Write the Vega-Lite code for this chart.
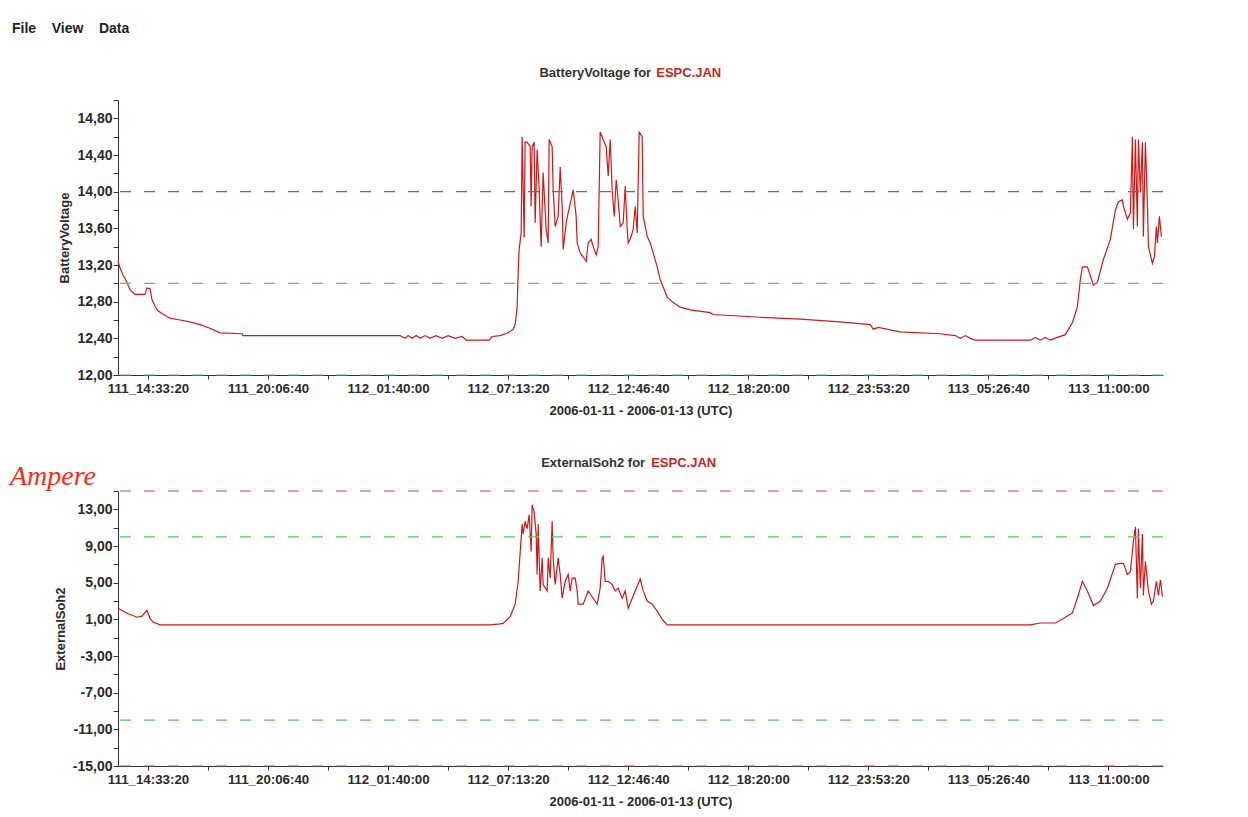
{
  "$schema": "https://vega.github.io/schema/vega-lite/v6.json",
  "background": "white",
  "padding": {"left": 10, "top": 22, "right": 5, "bottom": 5},
  "title": {"text": "File\u00a0\u00a0\u00a0\u00a0View\u00a0\u00a0\u00a0\u00a0Data", "anchor": "start", "dx": 2, "fontSize": 14, "font": "Liberation Sans", "fontWeight": "bold", "color": "#222222", "offset": 31},
  "spacing": 39,
  "config": {
    "view": {"stroke": null},
    "axis": {
      "domainColor": "#333333", "tickColor": "#333333", "labelColor": "#2a2a2a", "titleColor": "#2a2a2a",
      "labelFont": "Liberation Sans", "titleFont": "Liberation Sans", "labelFontWeight": "bold",
      "titleFontWeight": "bold", "titleFontSize": 13, "grid": false, "labelOverlap": false, "labelFlush": false
    }
  },
  "datasets": {
    "bv": [
      {"t":47400,"v":13.24},{"t":47730,"v":13.17},{"t":48230,"v":13.09},{"t":48730,"v":13.03},{"t":49400,"v":12.93},
      {"t":50230,"v":12.88},{"t":51900,"v":12.88},{"t":52230,"v":12.95},{"t":52730,"v":12.94},{"t":53070,"v":12.82},
      {"t":53570,"v":12.75},{"t":54070,"v":12.70},{"t":54730,"v":12.67},{"t":56070,"v":12.62},{"t":57730,"v":12.60},
      {"t":59400,"v":12.58},{"t":61070,"v":12.55},{"t":62730,"v":12.51},{"t":64400,"v":12.46},{"t":68070,"v":12.45},
      {"t":68230,"v":12.43},{"t":93730,"v":12.43},{"t":94400,"v":12.43},{"t":95230,"v":12.40},{"t":95730,"v":12.43},
      {"t":96400,"v":12.40},{"t":97070,"v":12.43},{"t":97730,"v":12.40},{"t":98570,"v":12.43},{"t":99400,"v":12.40},
      {"t":100400,"v":12.43},{"t":101400,"v":12.40},{"t":102400,"v":12.43},{"t":103570,"v":12.40},{"t":104730,"v":12.42},
      {"t":105400,"v":12.38},{"t":107730,"v":12.38},{"t":109230,"v":12.38},{"t":109730,"v":12.42},{"t":111070,"v":12.43},
      {"t":112400,"v":12.46},{"t":113230,"v":12.50},{"t":113570,"v":12.55},{"t":113900,"v":12.74},{"t":114070,"v":13.12},
      {"t":114230,"v":13.37},{"t":114570,"v":13.55},{"t":114730,"v":14.60},{"t":115070,"v":13.50},{"t":115230,"v":14.54},
      {"t":115570,"v":14.54},{"t":116070,"v":14.49},{"t":116230,"v":13.84},{"t":116400,"v":14.49},{"t":116730,"v":14.54},
      {"t":116900,"v":13.66},{"t":117230,"v":14.46},{"t":117570,"v":14.02},{"t":117900,"v":13.40},{"t":118230,"v":14.21},
      {"t":118730,"v":13.59},{"t":119070,"v":13.44},{"t":119230,"v":14.57},{"t":119730,"v":14.49},{"t":119900,"v":14.02},
      {"t":120230,"v":13.62},{"t":120730,"v":13.73},{"t":121070,"v":14.27},{"t":121400,"v":13.84},{"t":121570,"v":13.37},
      {"t":122070,"v":13.66},{"t":122400,"v":13.77},{"t":122900,"v":13.91},{"t":123230,"v":14.02},{"t":123730,"v":13.73},
      {"t":123900,"v":13.44},{"t":124400,"v":13.33},{"t":124900,"v":13.29},{"t":125400,"v":13.24},{"t":125730,"v":13.44},
      {"t":126230,"v":13.48},{"t":126570,"v":13.40},{"t":127070,"v":13.31},{"t":127400,"v":13.40},{"t":127730,"v":14.65},
      {"t":128230,"v":14.57},{"t":128730,"v":14.49},{"t":129070,"v":14.17},{"t":129400,"v":14.57},{"t":129730,"v":14.02},
      {"t":130070,"v":13.73},{"t":130400,"v":14.13},{"t":130730,"v":13.91},{"t":131070,"v":13.62},{"t":131570,"v":13.66},
      {"t":131900,"v":14.06},{"t":132230,"v":13.59},{"t":132400,"v":13.44},{"t":132900,"v":13.51},{"t":133230,"v":13.59},
      {"t":133570,"v":13.84},{"t":133900,"v":13.55},{"t":134230,"v":14.65},{"t":134730,"v":14.60},{"t":134900,"v":13.73},
      {"t":135570,"v":13.51},{"t":136070,"v":13.44},{"t":136570,"v":13.33},{"t":137230,"v":13.18},{"t":137730,"v":13.04},
      {"t":138900,"v":12.85},{"t":139900,"v":12.79},{"t":141070,"v":12.74},{"t":142730,"v":12.71},{"t":146070,"v":12.68},
      {"t":146570,"v":12.66},{"t":154400,"v":12.63},{"t":161070,"v":12.61},{"t":167730,"v":12.58},{"t":172730,"v":12.55},
      {"t":173230,"v":12.50},{"t":174070,"v":12.52},{"t":177730,"v":12.47},{"t":184400,"v":12.45},{"t":186900,"v":12.43},
      {"t":187730,"v":12.40},{"t":188570,"v":12.43},{"t":189400,"v":12.40},{"t":190230,"v":12.38},{"t":194400,"v":12.38},
      {"t":199400,"v":12.38},{"t":200230,"v":12.41},{"t":201070,"v":12.38},{"t":201900,"v":12.41},{"t":202730,"v":12.38},
      {"t":203900,"v":12.41},{"t":205230,"v":12.44},{"t":206400,"v":12.57},{"t":207230,"v":12.74},{"t":207730,"v":13.04},
      {"t":208070,"v":13.18},{"t":208900,"v":13.18},{"t":209900,"v":12.98},{"t":210570,"v":13.01},{"t":211570,"v":13.26},
      {"t":212730,"v":13.48},{"t":213570,"v":13.80},{"t":214070,"v":13.89},{"t":214730,"v":13.91},{"t":214900,"v":13.84},
      {"t":215570,"v":13.70},{"t":216070,"v":13.77},{"t":216400,"v":14.60},{"t":216570,"v":13.59},{"t":216900,"v":14.57},
      {"t":217230,"v":13.62},{"t":217400,"v":14.57},{"t":217730,"v":13.99},{"t":218070,"v":14.54},{"t":218230,"v":13.51},
      {"t":218570,"v":14.54},{"t":218900,"v":13.88},{"t":219070,"v":13.40},{"t":219730,"v":13.22},{"t":220070,"v":13.29},
      {"t":220400,"v":13.62},{"t":220570,"v":13.44},{"t":220900,"v":13.73},{"t":221230,"v":13.51}
    ],
    "es": [
      {"t":47400,"v":2.2},{"t":48900,"v":1.67},{"t":50570,"v":1.23},{"t":51400,"v":1.35},{"t":52230,"v":2.0},
      {"t":52730,"v":1.1},{"t":53230,"v":0.7},{"t":54400,"v":0.4},{"t":109400,"v":0.4},{"t":111070,"v":0.5},
      {"t":111570,"v":0.55},{"t":112730,"v":1.3},{"t":113570,"v":2.65},{"t":114070,"v":5.15},{"t":114730,"v":11.4},
      {"t":114900,"v":10.3},{"t":115230,"v":11.7},{"t":115570,"v":10.9},{"t":115900,"v":12.4},{"t":116230,"v":8.4},
      {"t":116400,"v":13.5},{"t":116730,"v":12.7},{"t":117070,"v":10.3},{"t":117230,"v":5.9},{"t":117400,"v":11.4},
      {"t":117730,"v":4.1},{"t":118070,"v":7.7},{"t":118230,"v":4.8},{"t":118900,"v":4.1},{"t":119070,"v":7.7},
      {"t":119400,"v":5.5},{"t":119730,"v":11.7},{"t":119900,"v":7.7},{"t":120230,"v":4.8},{"t":120730,"v":7.7},
      {"t":121070,"v":5.9},{"t":121400,"v":3.3},{"t":121900,"v":5.15},{"t":122400,"v":5.9},{"t":122730,"v":4.1},
      {"t":123070,"v":5.5},{"t":123570,"v":5.5},{"t":123900,"v":4.1},{"t":124070,"v":2.65},{"t":124900,"v":2.65},
      {"t":125730,"v":4.1},{"t":126570,"v":3.3},{"t":127230,"v":2.65},{"t":127730,"v":4.4},{"t":128070,"v":7.7},
      {"t":128230,"v":7.9},{"t":128570,"v":5.15},{"t":129070,"v":5.15},{"t":129730,"v":4.8},{"t":130230,"v":4.1},
      {"t":130730,"v":4.4},{"t":131400,"v":3.3},{"t":131900,"v":4.1},{"t":132400,"v":2.2},{"t":133070,"v":3.3},
      {"t":133570,"v":4.1},{"t":134400,"v":5.4},{"t":134900,"v":4.1},{"t":135570,"v":3.0},{"t":136400,"v":2.65},
      {"t":137230,"v":1.9},{"t":138070,"v":1.0},{"t":138900,"v":0.4},{"t":199400,"v":0.4},{"t":201070,"v":0.6},
      {"t":203570,"v":0.6},{"t":204900,"v":1.1},{"t":206400,"v":1.7},{"t":207230,"v":3.3},{"t":208070,"v":5.15},
      {"t":208900,"v":4.1},{"t":209900,"v":2.5},{"t":211070,"v":3.0},{"t":212230,"v":4.4},{"t":213570,"v":7.0},
      {"t":214400,"v":7.1},{"t":214900,"v":7.1},{"t":215570,"v":5.9},{"t":216070,"v":6.2},{"t":216570,"v":9.5},
      {"t":216900,"v":11.1},{"t":217230,"v":3.3},{"t":217400,"v":10.9},{"t":217730,"v":4.4},{"t":218070,"v":10.3},
      {"t":218230,"v":3.6},{"t":218570,"v":7.3},{"t":219070,"v":4.1},{"t":219570,"v":2.65},{"t":219900,"v":3.0},
      {"t":220400,"v":5.15},{"t":220730,"v":3.6},{"t":221070,"v":5.3},{"t":221400,"v":3.5}
    ],
    "th1": [{"v":14,"c":"red"},{"v":13,"c":"green"},{"v":12,"c":"green"}],
    "th2": [{"v":15,"c":"red"},{"v":10,"c":"green"},{"v":-10,"c":"green"},{"v":-15,"c":"red"}],
    "one": [{"k":1}]
  },
  "vconcat": [
    {
      "width": 1045,
      "height": 275,
      "layer": [
        {
          "data": {"name": "bv"},
          "mark": {"type": "line", "color": "#d01818", "strokeWidth": 1.2},
          "encoding": {
            "x": {"field": "t", "type": "quantitative",
              "scale": {"domain": [47400, 221500], "nice": false, "zero": false},
              "axis": {"values": [52400,62400,72400,82400,92400,102400,112400,122400,132400,142400,152400,162400,172400,182400,192400,202400,212400],
                "labelExpr": "round((datum.value-52400)/10000)%2==0 ? (111+floor(datum.value/86400)) + '_' + utcFormat(datum.value*1000, '%H:%M:%S') : ''",
                "title": "2006-01-11 - 2006-01-13 (UTC)", "tickSize": 4, "tickCount": 100, "labelPadding": 2, "titlePadding": 10, "labelFontSize": 13.3, "labelOverlap": false}},
            "y": {"field": "v", "type": "quantitative",
              "scale": {"domain": [12, 15], "nice": false, "zero": false},
              "axis": {"values": [12,12.2,12.4,12.6,12.8,13,13.2,13.4,13.6,13.8,14,14.2,14.4,14.6,14.8,15],
                "labelExpr": "(round((datum.value-12)/0.2)%2==0 && datum.value<14.9) ? replace(format(datum.value,'.2f'),'.',',') : ''",
                "title": "BatteryVoltage", "tickSize": 5, "tickCount": 100, "labelPadding": 1, "titlePadding": 5, "labelFontSize": 14, "labelOverlap": false}}
          }
        },
        {
          "data": {"name": "th1"},
          "mark": {"type": "rule", "strokeDash": [11, 13], "strokeWidth": 1.2},
          "encoding": {
            "y": {"field": "v", "type": "quantitative"},
            "color": {"field": "c", "type": "nominal", "scale": {"domain": ["red", "green"], "range": ["#c84848", "#55cc55"]}, "legend": null}
          }
        },
        {
          "data": {"name": "one"},
          "mark": {"type": "text", "align": "right", "baseline": "middle", "dy": -27, "font": "Liberation Sans", "fontSize": 13, "fontWeight": "bold", "color": "#333333"},
          "encoding": {
            "x": {"datum": 136230, "type": "quantitative"},
            "y": {"datum": 15, "type": "quantitative"},
            "text": {"value": "BatteryVoltage for"}
          }
        },
        {
          "data": {"name": "one"},
          "mark": {"type": "text", "align": "left", "baseline": "middle", "dy": -27, "font": "Liberation Sans", "fontSize": 13, "fontWeight": "bold", "color": "#cc2222"},
          "encoding": {
            "x": {"datum": 137070, "type": "quantitative"},
            "y": {"datum": 15, "type": "quantitative"},
            "text": {"value": "ESPC.JAN"}
          }
        }
      ]
    },
    {
      "width": 1045,
      "height": 275,
      "layer": [
        {
          "data": {"name": "es"},
          "mark": {"type": "line", "color": "#d01818", "strokeWidth": 1.2},
          "encoding": {
            "x": {"field": "t", "type": "quantitative",
              "scale": {"domain": [47400, 221500], "nice": false, "zero": false},
              "axis": {"values": [52400,62400,72400,82400,92400,102400,112400,122400,132400,142400,152400,162400,172400,182400,192400,202400,212400],
                "labelExpr": "round((datum.value-52400)/10000)%2==0 ? (111+floor(datum.value/86400)) + '_' + utcFormat(datum.value*1000, '%H:%M:%S') : ''",
                "title": "2006-01-11 - 2006-01-13 (UTC)", "tickSize": 4, "tickCount": 100, "labelPadding": 2, "titlePadding": 10, "labelFontSize": 13.3, "labelOverlap": false}},
            "y": {"field": "v", "type": "quantitative",
              "scale": {"domain": [-15, 15], "nice": false, "zero": false},
              "axis": {"values": [-15,-13,-11,-9,-7,-5,-3,-1,1,3,5,7,9,11,13,15],
                "labelExpr": "(round((datum.value+15)/2)%2==0 && datum.value<14.9) ? (datum.value<0 ? '-' : '') + replace(format(abs(datum.value),'.2f'),'.',',') : ''",
                "title": "ExternalSoh2", "tickSize": 5, "tickCount": 100, "labelPadding": 1, "titlePadding": 5, "labelFontSize": 14, "labelOverlap": false}}
          }
        },
        {
          "data": {"name": "th2"},
          "mark": {"type": "rule", "strokeDash": [11, 13], "strokeWidth": 1.2},
          "encoding": {
            "y": {"field": "v", "type": "quantitative"},
            "color": {"field": "c", "type": "nominal", "scale": {"domain": ["red", "green"], "range": ["#c84848", "#55cc55"]}, "legend": null}
          }
        },
        {
          "data": {"name": "one"},
          "mark": {"type": "text", "align": "right", "baseline": "middle", "dy": -28, "font": "Liberation Sans", "fontSize": 13, "fontWeight": "bold", "color": "#333333"},
          "encoding": {
            "x": {"datum": 135230, "type": "quantitative"},
            "y": {"datum": 15, "type": "quantitative"},
            "text": {"value": "ExternalSoh2 for"}
          }
        },
        {
          "data": {"name": "one"},
          "mark": {"type": "text", "align": "left", "baseline": "middle", "dy": -28, "font": "Liberation Sans", "fontSize": 13, "fontWeight": "bold", "color": "#cc2222"},
          "encoding": {
            "x": {"datum": 136230, "type": "quantitative"},
            "y": {"datum": 15, "type": "quantitative"},
            "text": {"value": "ESPC.JAN"}
          }
        },
        {
          "data": {"name": "one"},
          "mark": {"type": "text", "align": "left", "baseline": "alphabetic", "dx": -108, "dy": -6, "font": "Liberation Serif", "fontSize": 28, "fontStyle": "italic", "color": "#ff2a1a"},
          "encoding": {
            "x": {"datum": 47400, "type": "quantitative"},
            "y": {"datum": 15, "type": "quantitative"},
            "text": {"value": "Ampere"}
          }
        }
      ]
    }
  ]
}
